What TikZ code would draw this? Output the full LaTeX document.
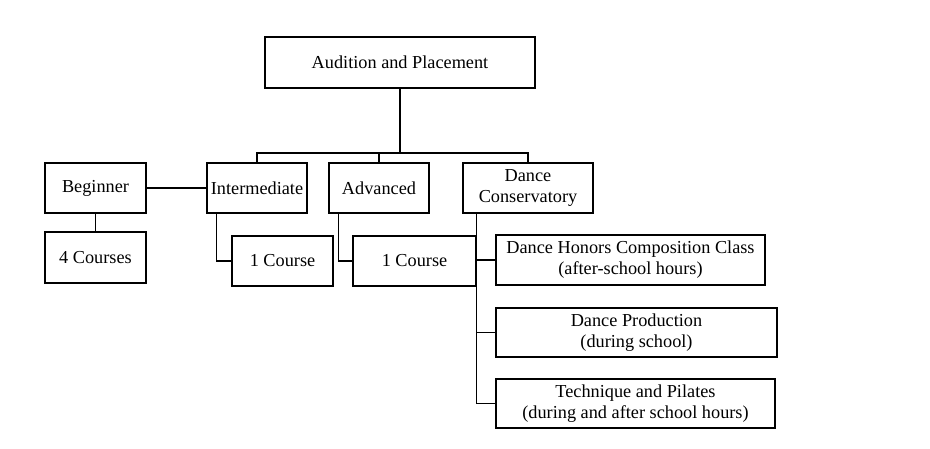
\documentclass[tikz,border=0pt]{standalone}
\usepackage{fontspec}
\setmainfont{Liberation Serif}
\usepackage{tikz}

\begin{document}
\begin{tikzpicture}[x=0.02cm,y=-0.02cm,
  box/.style={draw, line width=0.8pt, align=center, inner sep=1pt,
    font=\fontsize{10.4}{12}\selectfont},
  link/.style={line width=0.8pt}]

\useasboundingbox (0,0) rectangle (930,449);

% top of the tree
\node[box, minimum width=5.4cm, minimum height=1.02cm] (aud) at (400,62.5) {Audition and Placement};

% levels
\node[box, minimum width=2.02cm, minimum height=1cm] (beg) at (95.5,188) {Beginner};
\node[box, minimum width=2cm, minimum height=1cm] (inter) at (257,188) {Intermediate};
\node[box, minimum width=2cm, minimum height=1cm] (adv) at (379,188) {Advanced};
\node[box, minimum width=2.6cm, minimum height=1cm] (cons) at (528,188) {Dance\\Conservatory};

% courses
\node[box, minimum width=2.02cm, minimum height=1.02cm] (begcourses) at (95.5,257.5) {4 Courses};
\node[box, minimum width=2.02cm, minimum height=1cm] (intercourse) at (282.5,261) {1 Course};
\node[box, minimum width=2.46cm, minimum height=1cm] (advcourse) at (414.5,261) {1 Course};

% conservatory classes
\node[box, minimum width=5.38cm, minimum height=1cm] (honors) at (630.5,260) {Dance Honors Composition Class\\(after-school hours)};
\node[box, minimum width=5.62cm, minimum height=0.98cm] (prod) at (636.5,332.5) {Dance Production\\(during school)};
\node[box, minimum width=5.58cm, minimum height=0.98cm] (tech) at (635.5,403.5) {Technique and Pilates\\(during and after school hours)};

% connectors
\coordinate (bar) at (400,153);
\draw[link] (aud.south) -- (bar);
\foreach \lvl in {inter, adv, cons}
  \draw[link] (\lvl.north) |- (bar);

\draw[link] (beg.east) -- (inter.west);
\draw[link] (beg.south) -- (begcourses.north);
\draw[link] ([xshift=0.2cm]inter.south west) |- (intercourse.west);
\draw[link] ([xshift=0.2cm]adv.south west) |- (advcourse.west);

\foreach \cls in {honors, prod, tech}
  \draw[link] ([xshift=0.28cm]cons.south west) |- (\cls.west);

\end{tikzpicture}
\end{document}
